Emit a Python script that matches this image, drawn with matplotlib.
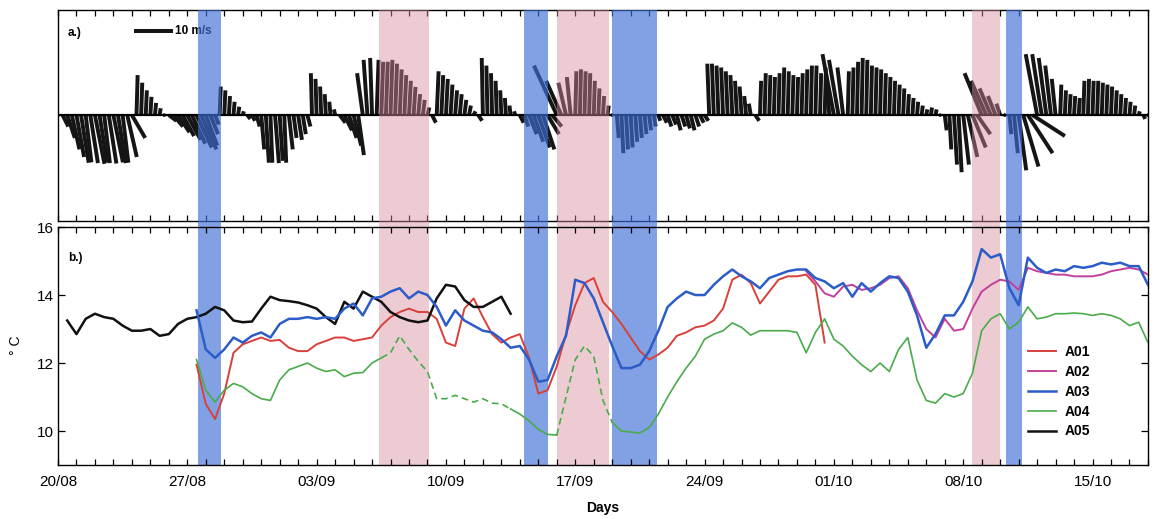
import matplotlib.pyplot as plt
import numpy as np
from matplotlib.ticker import FixedLocator, MultipleLocator

plt.rcParams["font.family"] = ["Liberation Sans", "DejaVu Sans"]

# wind sticks every 6 h from 20/08, m/s
WIND_STEP = 0.25
wind_u = [
    0.5, 1.5, 2, 2, 2, 2, 1.5, 2, 2.5, 2,
    1.5, 2, 2.5, 2, 1.5, 2.5, 3.5, 0.3, 0.3, 0.3,
    0.3, 0.3, 0.3, 0.3, 2, 2.5, 3, 3, 3.5, 3.5,
    4, 4, 3, 2, 1, 0.3, 0.3, 0.3, 0.3, 0.3,
    0.3, 0.8, 0.8, 0.8, 0.8, 0.8, 0.5, 1, 0.8, 0.5,
    1, 0.8, 1, 0.8, 0.8, -0.3, -0.3, -0.3, -0.3, -0.3,
    -0.3, 1.5, 2, 2, 2, 1.5, -1.5, -1, -0.5, 0.5,
    0.5, 0.5, 0.5, 0.5, 0.5, 0.5, 0.5, 0.5, 0.5, 0.5,
    0.5, 1, 0.5, 0.5, 0.5, 0.5, 0.5, 0.5, 0.5, 0.5,
    0.5, 1, -0.3, -0.3, -0.3, -0.3, -0.3, -0.3, -0.3, -0.3,
    1, 1, 2, 2.5, 3, 3, 3, 2.5, -6, -4,
    -2, -1, 0.3, 0.3, 0.3, 0.3, 0.3, 0.3, 0.3, 0.3,
    0.3, 0.5, 0.5, 0.5, 0.5, 0.5, 0.5, 0.5, 0.5, 0.5,
    0.5, 1, 1, 1, 1, 1, 1, 1, 1, 1,
    1, -0.5, -0.5, -0.5, -0.5, -0.5, -0.5, -0.5, -0.5, -0.5,
    -0.5, 1, 0.3, 0.3, 0.3, 0.3, 0.3, 0.3, 0.3, 0.3,
    0.3, 0.3, 0.3, 0.3, 0.3, 0.3, 0.3, -1, -3, -2.5,
    -1.5, 0.3, 0.3, 0.3, 0.3, 0.3, 0.3, 0.3, 0.3, 0.3,
    0.3, 0.3, 0.3, 0.3, 0.3, 0.3, 0.3, 0.3, 0.3, 0.3,
    0.3, 0.3, 0.5, 0.5, 0.8, 0.8, 1.5, 2.5, 3.5, 3.5,
    -4.5, -4, -3, -2, -1, 0, 0.5, 1, 2, 4,
    6.5, 8.5, -3, -2.5, -2, -1.5, -1, 0.3, 0.3, 0.3,
    0.3, 0.3, 0.3, 0.3, 0.3, 0.3, 0.3, 0.3, 0.3, 0.3,
    0.3, 0.3, 0.3, 0.3, 0.3, 0.5, 0.3,
]
wind_v = [
    -0.5, -3, -6, -9, -11, -12.5, -12.4, -12.6, -12.8, -12.5,
    -12.6, -12.7, -12.4, -12.6, -12.5, -11, -6, 10.5, 8.5, 6.5,
    4.8, 3.2, 1.8, 0.5, -1.5, -3, -4.5, -5.5, -6.5, -7.5,
    -8.5, -9, -8, -5, -2.5, 7.5, 6.5, 5, 3.5, 2.2,
    1, -1, -1.5, -3, -9, -12.5, -12.5, -12.6, -12, -12.5,
    -9, -6, -6.5, -5, -3, 11, 9.5, 7.5, 5.5, 3.5,
    1.5, -2, -4, -6, -8, -10.5, 11, 14.5, 15, 14.5,
    14, 14, 14.5, 13.5, 12, 10.5, 9, 7.4, 5.5, 4,
    2, -2, 11.5, 10.5, 9.5, 8, 6.5, 5.5, 4, 2.5,
    1, -1.5, 15, 13, 11, 9, 6.5, 4.5, 2.5, 1,
    -2, -3, -5, -7, -8.5, -9, -5, -3, 13, 9,
    8.5, 10, 11.5, 12, 11.5, 11, 9, 7, 5, 2.5,
    0.5, -6, -10, -9, -8.5, -7, -6, -5, -4, -3,
    -1.5, -2, -3, -2.5, -4, -3, -3.5, -4, -3, -2,
    -1.5, 13.5, 13.5, 13, 12.5, 11.5, 10.5, 9, 7.5, 5,
    3, -1.5, 9, 11, 10.5, 10, 11, 12.5, 11.5, 10.5,
    10, 11, 12, 13, 13, 11, 10.5, 12.5, 16, 14.5,
    12.5, 11.5, 12.5, 14, 15, 14.5, 13, 12.5, 12, 11,
    10, 9, 8, 7, 5.5, 4.5, 3.5, 2.5, 1.5, 2,
    1.5, 0.5, -4, -9, -13, -15, -13, -11, -8.5, -5,
    11, 9, 7, 5, 3, 1, -5, -10, -14.5, -13.5,
    -10, -5.5, 16, 16, 15, 13, 9.5, 8, 6.5, 5.5,
    5, 4.5, 9, 9.5, 9, 9, 8.5, 8, 7.5, 6.5,
    5.5, 4.5, 3.5, 2.5, 1, -1, 0.3,
]

# upwelling / relaxation periods, days after 20/08
warm_events = [(17.4, 20.1), (27.0, 29.8), (49.5, 51.0)]
cold_events = [(7.6, 8.8), (25.2, 26.5), (30.0, 32.4), (51.3, 52.2)]

# temperature, one value every 12 h (deg C)
TEMP_STEP = 0.5
a01_start = 7.5
a01 = [
    11.95, 10.8, 10.35, 11.1, 12.3, 12.55, 12.65, 12.75, 12.65, 12.68,
    12.45, 12.35, 12.35, 12.55, 12.65, 12.75, 12.75, 12.65, 12.7, 12.75,
    13.1, 13.35, 13.5, 13.6, 13.5, 13.5, 13.3, 12.6, 12.5, 13.6,
    13.9, 13.35, 12.85, 12.6, 12.75, 12.85, 12.15, 11.1, 11.2, 11.9,
    12.85, 13.7, 14.35, 14.5, 13.8, 13.5, 13.15, 12.75, 12.35, 12.1,
    12.25, 12.45, 12.8, 12.9, 13.05, 13.1, 13.25, 13.6, 14.45, 14.6,
    14.35, 13.75, 14.1, 14.45, 14.55, 14.55, 14.6, 14.3, 12.6,
]
a02_start = 40.5
a02 = [
    14.7, 14.4, 14.05, 13.95, 14.25, 14.3, 14.15, 14.2, 14.3, 14.5,
    14.55, 14.2, 13.55, 13.0, 12.75, 13.3, 12.95, 13.0, 13.6, 14.1,
    14.3, 14.45, 14.4, 14.15, 14.8, 14.7, 14.65, 14.6, 14.6, 14.55,
    14.55, 14.55, 14.6, 14.7, 14.75, 14.8, 14.75, 14.6,
]
a03_start = 7.5
a03 = [
    13.55, 12.4, 12.15, 12.4, 12.75, 12.6, 12.8, 12.9, 12.75, 13.15,
    13.3, 13.3, 13.35, 13.3, 13.35, 13.3, 13.6, 13.75, 13.4, 13.9,
    13.95, 14.1, 14.2, 13.9, 14.1, 14.0, 13.65, 13.1, 13.55, 13.25,
    13.1, 12.95, 12.9, 12.7, 12.45, 12.5, 12.1, 11.45, 11.5, 12.2,
    12.8, 14.45, 14.35, 13.9, 13.2, 12.5, 11.85, 11.85, 11.95, 12.35,
    12.95, 13.65, 13.9, 14.1, 14.0, 14.0, 14.3, 14.55, 14.75, 14.55,
    14.4, 14.2, 14.5, 14.6, 14.7, 14.75, 14.75, 14.5, 14.4, 14.2,
    14.35, 13.95, 14.35, 14.1, 14.35, 14.55, 14.5, 14.1, 13.4, 12.45,
    12.85, 13.4, 13.4, 13.8, 14.4, 15.35, 15.1, 15.2, 14.2, 13.7,
    15.1, 14.8, 14.65, 14.75, 14.7, 14.85, 14.8, 14.85, 14.95, 14.9,
    14.95, 14.85, 14.85, 14.3,
]
a04_start = 7.5
a04 = [
    12.1, 11.2, 10.85, 11.2, 11.4, 11.3, 11.1, 10.95, 10.9, 11.5,
    11.8, 11.9, 12.0, 11.85, 11.75, 11.8, 11.6, 11.7, 11.72, 12.0,
    12.15, 12.3, 12.8, 12.4, 12.05, 11.75, 10.95, 10.95, 11.05, 10.95,
    10.85, 10.95, 10.82, 10.8, 10.65, 10.5, 10.3, 10.05, 9.9, 9.88,
    11.0, 12.1, 12.5, 12.2, 10.9, 10.25, 10.0, 9.97, 9.94, 10.1,
    10.5, 11.0, 11.45, 11.85, 12.2, 12.7, 12.85, 12.95, 13.18, 13.05,
    12.82, 12.95, 12.95, 12.95, 12.95, 12.9, 12.3, 12.9, 13.3, 12.7,
    12.5, 12.2, 11.95, 11.75, 12.0, 11.75, 12.4, 12.75, 11.5, 10.9,
    10.82, 11.1, 11.0, 11.1, 11.7, 12.95, 13.3, 13.45, 13.0, 13.2,
    13.65, 13.3, 13.35, 13.45, 13.45, 13.47, 13.45, 13.4, 13.45, 13.4,
    13.3, 13.1, 13.2, 12.6,
]
# A04 record is patchy here, drawn dashed
a04_patchy = [(17.5, 24.5), (27.0, 30.0)]
a05_start = 0.5
a05 = [
    13.25, 12.85, 13.3, 13.45, 13.35, 13.3, 13.1, 12.95, 12.95, 13.0,
    12.8, 12.85, 13.15, 13.3, 13.35, 13.45, 13.65, 13.55, 13.25, 13.2,
    13.22, 13.6, 13.95, 13.85, 13.82, 13.78, 13.7, 13.6, 13.35, 13.15,
    13.8, 13.6, 14.1, 13.95, 13.8, 13.5, 13.35, 13.25, 13.2, 13.25,
    13.9, 14.3, 14.25, 13.85, 13.65, 13.65, 13.8, 13.95, 13.45,
]

week_ticks = [0, 7, 14, 21, 28, 35, 42, 49, 56]
week_labels = ["20/08", "27/08", "03/09", "10/09", "17/09", "24/09", "01/10", "08/10", "15/10"]

PINK = "#d98c9f"
BLUE = "#3f6fd8"


def _days(start, values):
    return start + TEMP_STEP * np.arange(len(values))


def _shade(ax, extend_below=0.0, zorder=0.5):
    for a, b in warm_events:
        ax.axvspan(a, b, ymin=-extend_below, ymax=1, color=PINK, alpha=0.45,
                   lw=0, zorder=zorder, clip_on=False)
    for a, b in cold_events:
        ax.axvspan(a, b, ymin=-extend_below, ymax=1, color=BLUE, alpha=0.65,
                   lw=0, zorder=zorder, clip_on=False)


def _day_ticks(ax):
    ax.xaxis.set_major_locator(FixedLocator(week_ticks))
    ax.xaxis.set_minor_locator(MultipleLocator(1))
    ax.tick_params(axis="x", which="both", direction="in", top=True, bottom=True,
                   length=4.5, width=0.9)


fig = plt.figure(figsize=(11.55, 5.19), dpi=100)
ax_w = fig.add_axes([0.0502, 0.5742, 0.9437, 0.4066])
ax_t = fig.add_axes([0.0502, 0.1040, 0.9437, 0.4586])

# ---- a) wind sticks ----
t_w = np.arange(len(wind_u)) * WIND_STEP
ax_w.set_xlim(0, 59)
ax_w.set_ylim(-27.8, 27.6)
q = ax_w.quiver(t_w, np.zeros(len(t_w)), wind_u, wind_v, angles="uv",
                scale_units="y", scale=1, pivot="tail", width=0.0036,
                headwidth=0, headlength=0, headaxislength=0,
                color="#151515", zorder=2)
ax_w.axhline(0, color="k", lw=1.6, zorder=3)
ax_w.quiverkey(q, 6.2, 22.1, 10, "10 m/s", labelpos="E", coordinates="data",
               labelsep=0.02, fontproperties={"weight": "bold", "size": 8.5})
_shade(ax_w, extend_below=0.035, zorder=4)
_day_ticks(ax_w)
ax_w.tick_params(axis="x", labelbottom=False)
ax_w.set_yticks([])
ax_w.text(0.009, 0.89, "a.)", transform=ax_w.transAxes, fontsize=8.5,
          fontweight="bold", va="center")

# ---- b) temperature ----
ax_t.set_xlim(0, 59)
ax_t.set_ylim(9, 16)
_shade(ax_t)

ax_t.plot(_days(a01_start, a01), a01, color="#d8403a", lw=1.4, label="A01", zorder=3)
ax_t.plot(_days(a02_start, a02), a02, color="#c2409c", lw=1.4, label="A02", zorder=3)
ax_t.plot(_days(a03_start, a03), a03, color="#2c5cc8", lw=1.8, label="A03", zorder=4)

d04 = _days(a04_start, a04)
v04 = np.array(a04)
patchy = np.zeros(len(d04), dtype=bool)
for a, b in a04_patchy:
    patchy |= (d04 >= a) & (d04 <= b)
solid = ~patchy
for a, b in a04_patchy:
    solid |= (d04 == a) | (d04 == b)
ax_t.plot(d04, np.where(solid, v04, np.nan), color="#4aab4a", lw=1.2, label="A04", zorder=3)
ax_t.plot(d04, np.where(patchy, v04, np.nan), color="#4aab4a", lw=1.2,
          dashes=(4, 2.5), zorder=3)

ax_t.plot(_days(a05_start, a05), a05, color="#111111", lw=1.8, label="A05", zorder=3)

_day_ticks(ax_t)
ax_t.set_xticklabels(week_labels)
ax_t.tick_params(axis="x", labelsize=11, pad=7)
ax_t.set_yticks([10, 12, 14, 16])
ax_t.tick_params(axis="y", direction="in", left=True, right=True, length=5,
                 width=0.9, labelsize=11, pad=3)
ax_t.set_xlabel("Days", fontsize=10, fontweight="bold", labelpad=9)
ax_t.text(0.009, 0.87, "b.)", transform=ax_t.transAxes, fontsize=8.5,
          fontweight="bold", va="center")
fig.text(0.014, 1 - 345 / 519, "\u00b0 C", rotation=90, fontsize=10,
         ha="center", va="center")

leg = ax_t.legend(loc="upper left", bbox_to_anchor=(0.89, 0.504), frameon=False,
                  borderpad=0, borderaxespad=0, handlelength=2.0,
                  handletextpad=0.65, labelspacing=0.42,
                  prop={"weight": "bold", "size": 10})

for ax in (ax_w, ax_t):
    for s in ax.spines.values():
        s.set_linewidth(1.0)

fig.savefig("out.png", dpi=100)
